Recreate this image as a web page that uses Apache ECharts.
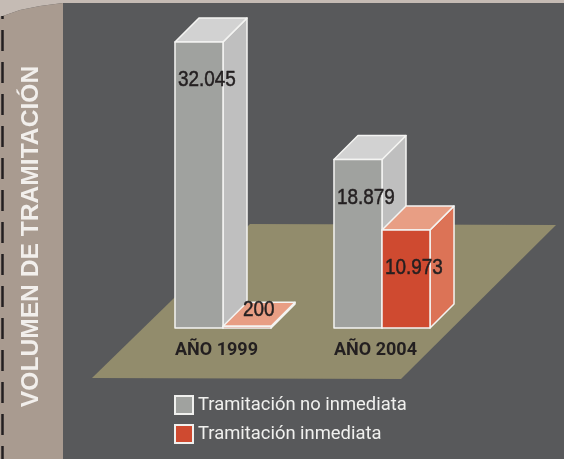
<!DOCTYPE html>
<html>
<head>
<meta charset="utf-8">
<style>
  html, body { margin: 0; padding: 0; background: #58595b; }
  #chart { width: 564px; height: 459px; }
</style>
<script src="https://cdn.jsdelivr.net/npm/echarts@6/dist/echarts.min.js"></script>
</head>
<body>
<div id="chart"></div>
<script>
const categories = ['AÑO 1999', 'AÑO 2004']
const noInmediata = [32045, 18879]
const inmediata = [200, 10973]
const seriesNames = ['Tramitación no inmediata', 'Tramitación inmediata']
const sideTitle = 'VOLUMEN DE TRAMITACIÓN'

const TEXT_DARK = '#231f20'
const FONT = 'Roboto, "Liberation Sans", sans-serif'

// formato con punto de miles, como en el original
function fmt (v) {
  return v >= 1000 ? String(v).replace(/(\d)(\d{3})$/, '$1.$2') : String(v)
}

// caja 3D: cara frontal, superior y lateral
function box3d (slot, colors) {
  return function (params, api) {
    const idx = api.value(0)
    const val = api.value(1)
    const top = api.coord([idx, val])
    const base = api.coord([idx, 0])
    const w = api.size([1, 0])[0] * 0.302
    const d = w / 2
    const x0 = slot === 0 ? top[0] - w : top[0]
    const x1 = x0 + w
    const stroke = { stroke: '#f4f4f2', lineWidth: 1.5, lineJoin: 'round' }
    const face = (pts, fill) => ({
      type: 'polygon',
      shape: { points: pts },
      style: Object.assign({ fill: fill }, stroke)
    })
    const small = base[1] - top[1] < 30
    return {
      type: 'group',
      children: [
        face([[x1, top[1]], [x1 + d, top[1] - d], [x1 + d, base[1] - d], [x1, base[1]]], colors.side),
        face([[x0, top[1]], [x0 + d, top[1] - d], [x1 + d, top[1] - d], [x1, top[1]]], colors.top),
        face([[x0, top[1]], [x1, top[1]], [x1, base[1]], [x0, base[1]]], colors.front),
        {
          type: 'text',
          z2: 10,
          x: small ? x0 + 20 : x0 + 3,
          y: small ? top[1] - 16 : top[1] + 38,
          scaleX: 0.86,
          style: {
            text: fmt(val),
            verticalAlign: 'middle',
            fill: TEXT_DARK,
            stroke: TEXT_DARK,
            lineWidth: 0.5,
            font: '22px "Liberation Sans", sans-serif'
          }
        }
      ]
    }
  }
}

const chart = echarts.init(document.getElementById('chart'))
chart.setOption({
  animation: false,
  backgroundColor: '#58595b',
  grid: { left: 143.5, width: 318, top: 42, bottom: 131 },
  xAxis: {
    type: 'category',
    data: categories,
    axisLine: { show: false },
    axisTick: { show: false },
    axisLabel: {
      margin: 13,
      padding: [0, 13, 0, 0],
      color: TEXT_DARK,
      fontFamily: FONT,
      fontWeight: 'bold',
      fontSize: 18
    }
  },
  yAxis: { type: 'value', min: 0, max: 32045, show: false },
  legend: {
    left: 174,
    top: 395,
    padding: 0,
    orient: 'vertical',
    itemWidth: 18,
    itemHeight: 18,
    itemGap: 9,
    icon: 'rect',
    data: seriesNames,
    textStyle: { color: '#f0f0ee', fontFamily: FONT, fontSize: 18.4 }
  },
  graphic: [
    // banda superior clara
    { type: 'rect', shape: { x: 0, y: 0, width: 564, height: 3 }, style: { fill: '#c5bbb4' } },
    { type: 'polygon', shape: { points: [[0, 0], [63, 0], [63, 3], [40, 6], [20, 10], [0, 17]] }, style: { fill: '#c5bbb4' } },
    // franja lateral
    { type: 'polygon', shape: { points: [[0, 17], [20, 10], [40, 6], [63, 3], [63, 459], [0, 459]] }, style: { fill: '#a99b90' } },
    { type: 'line', shape: { x1: 2.5, y1: 16, x2: 2.5, y2: 19 }, style: { stroke: TEXT_DARK, lineWidth: 2.5 } },
    { type: 'line', shape: { x1: 2.5, y1: 30, x2: 2.5, y2: 459 }, style: { stroke: TEXT_DARK, lineWidth: 2.5, lineDash: [21, 11] } },
    {
      type: 'text',
      x: 32,
      y: 236.5,
      rotation: Math.PI / 2,
      scaleX: 1.07,
      style: {
        text: sideTitle,
        align: 'center',
        verticalAlign: 'middle',
        fill: '#f2efec',
        font: 'bold 23px "Liberation Sans", sans-serif'
      }
    },
    // suelo
    { type: 'polygon', shape: { points: [[92, 378], [401, 379], [556, 225], [250, 224]] }, style: { fill: '#928c6c' } }
  ],
  series: [
    {
      name: seriesNames[0],
      type: 'custom',
      itemStyle: { color: '#a0a29f', borderColor: '#f0f0ee', borderWidth: 1 },
      encode: { x: 0, y: 1 },
      data: noInmediata.map((v, i) => [i, v]),
      renderItem: box3d(0, { front: '#a0a29f', top: '#d2d2d2', side: '#bfbfbf' })
    },
    {
      name: seriesNames[1],
      type: 'custom',
      itemStyle: { color: '#cf4a30', borderColor: '#f0f0ee', borderWidth: 1 },
      encode: { x: 0, y: 1 },
      data: inmediata.map((v, i) => [i, v]),
      renderItem: box3d(1, { front: '#cf4a30', top: '#e89e84', side: '#dc7356' })
    }
  ]
})
</script>
</body>
</html>
